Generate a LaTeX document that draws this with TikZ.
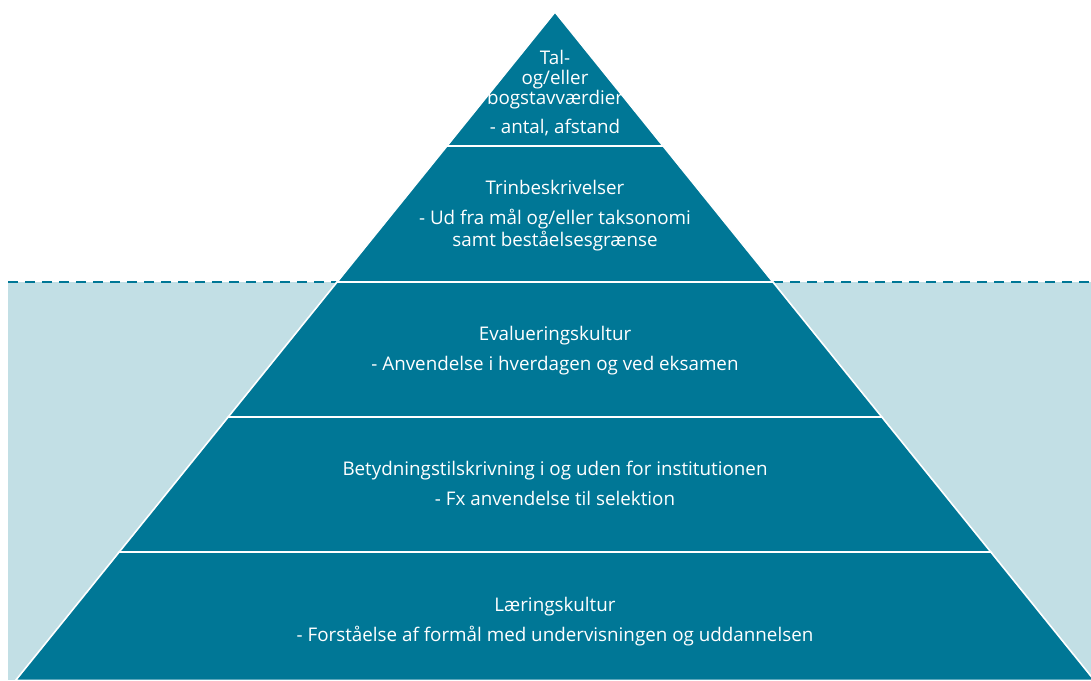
\documentclass[tikz,border=0pt]{standalone}
\usepackage{fontspec}
\setmainfont{Open Sans}
\definecolor{teal1}{HTML}{007796}
\definecolor{pale}{HTML}{C2DFE5}
\begin{document}
\begin{tikzpicture}[x=1pt,y=-1pt,
  level/.style={fill=teal1,draw=white,line width=1.6pt,line join=miter},
  lbl/.style={text=white,font=\fontsize{18.8}{22}\selectfont,inner sep=0pt,anchor=base}]
\useasboundingbox (0,0) rectangle (1091,680);
\clip (0,0) rectangle (1091,680);
\fill[pale] (8,282) rectangle (1091,680);
\draw[teal1,line width=2pt,dash pattern=on 10pt off 7pt] (8,282) -- (1091,282);
% pyramid levels: x_L(y)=555-0.807(y-12), x_R(y)=555+0.807(y-12)
\path[level] (555,12) -- (663.1,146) -- (446.9,146) -- cycle;
\path[level] (446.9,146) -- (663.1,146) -- (772.9,282) -- (337.1,282) -- cycle;
\path[level] (337.1,282) -- (772.9,282) -- (881.8,417) -- (228.2,417) -- cycle;
\path[level] (228.2,417) -- (881.8,417) -- (990.8,552) -- (119.2,552) -- cycle;
\path[level] (119.2,552) -- (990.8,552) -- (1094.5,680.5) -- (15.5,680.5) -- cycle;
% texts
\node[lbl] (t1a) at (555,64) {Tal-};
\node[lbl] (t1b) at (555,84) {og/eller};
\node[lbl] (t1c) at (555,104) {bogstavværdier};
\node[lbl] (t1d) at (555,133) {- antal, afstand};
\node[lbl] (t2a) at (555,194) {Trinbeskrivelser};
\node[lbl] (t2b) at (555,224) {- Ud fra mål og/eller taksonomi};
\node[lbl] (t2c) at (555,246) {samt beståelsesgrænse};
\node[lbl] (t3a) at (555,340) {Evalueringskultur};
\node[lbl] (t3b) at (555,370) {- Anvendelse i hverdagen og ved eksamen};
\node[lbl] (t4a) at (555,475) {Betydningstilskrivning i og uden for institutionen};
\node[lbl] (t4b) at (555,505) {- Fx anvendelse til selektion};
\node[lbl] (t5a) at (555,611) {Læringskultur};
\node[lbl] (t5b) at (555,641) {- Forståelse af formål med undervisningen og uddannelsen};
\end{tikzpicture}
\end{document}
